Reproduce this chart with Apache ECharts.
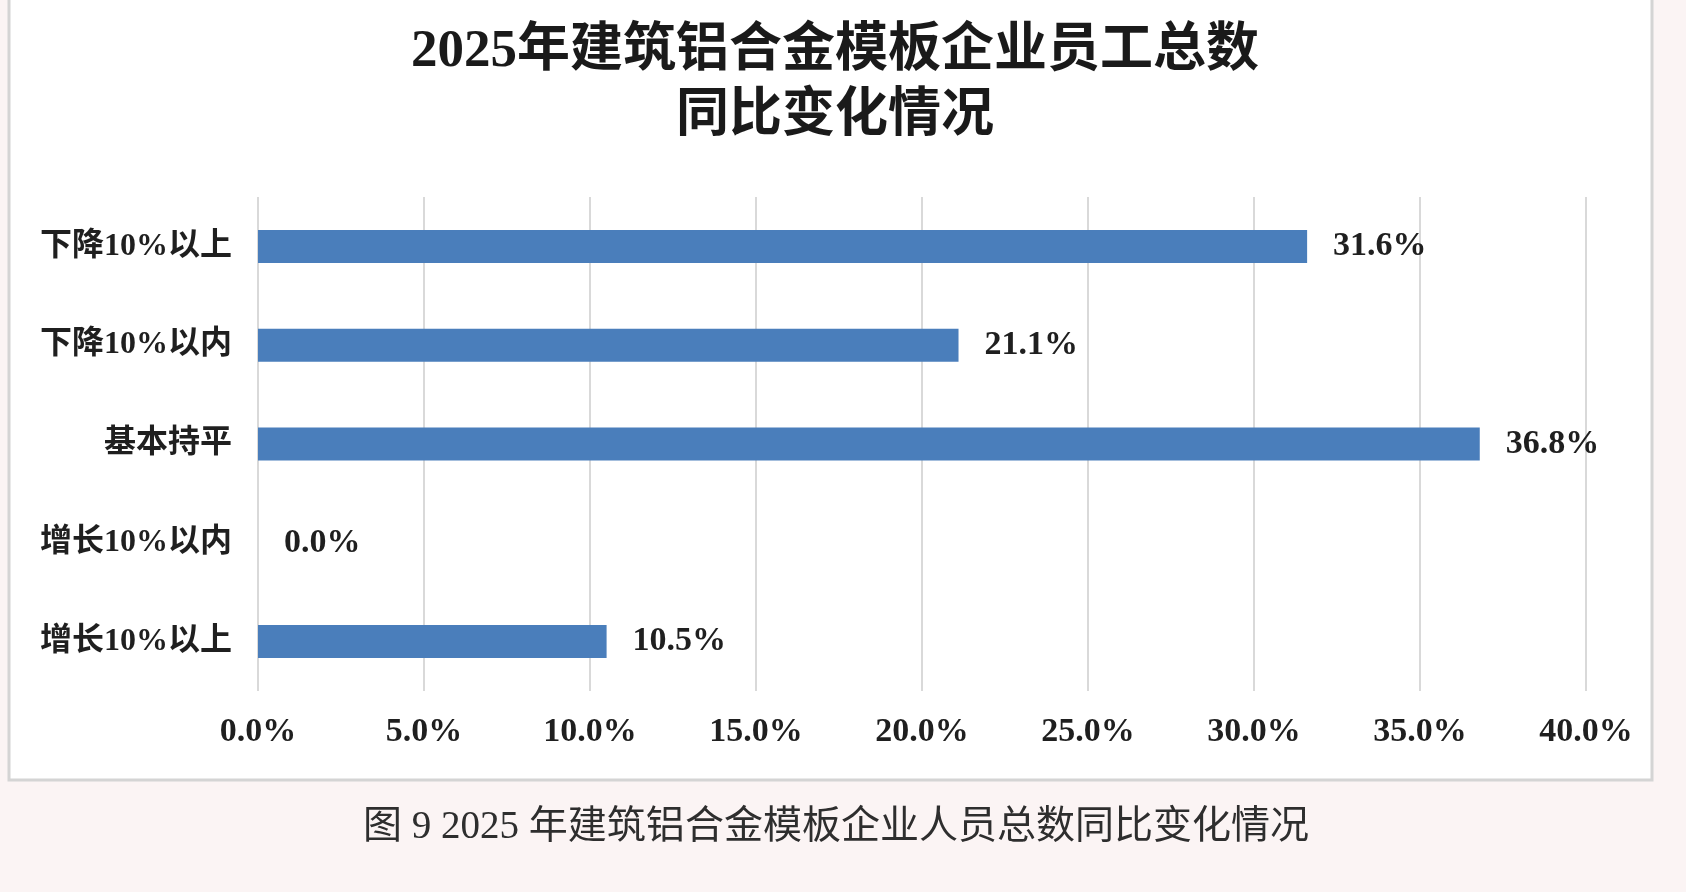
<!DOCTYPE html>
<html>
<head>
<meta charset="utf-8">
<script src="https://cdn.jsdelivr.net/npm/echarts@6/dist/echarts.min.js"></script>
<style>
  html, body { margin: 0; padding: 0; background: #fbf4f4; }
  #chart { width: 1686px; height: 892px; }
</style>
</head>
<body>
<div id="chart"></div>
<script>
var categories = ["下降10%以上", "下降10%以内", "基本持平", "增长10%以内", "增长10%以上"];
var shares = [31.6, 21.1, 36.8, 0.0, 10.5];
var titleText = "2025年建筑铝合金模板企业员工总数\n同比变化情况";
var captionText = "图 9 2025 年建筑铝合金模板企业人员总数同比变化情况";

var serif = '"Liberation Serif", "Noto Sans CJK SC", serif';

var myChart = echarts.init(document.getElementById("chart"));
var option = {
  backgroundColor: "#fbf4f4",
  animation: false,
  graphic: [
    {
      type: "rect",
      z: -10,
      shape: { x: 9, y: -10, width: 1643, height: 790 },
      style: { fill: "#ffffff", stroke: "#d4d4d4", lineWidth: 3 }
    }
  ],
  title: [
    {
      text: titleText,
      left: 830,
      top: 15,
      textAlign: "center",
      textStyle: {
        fontFamily: serif,
        fontSize: 53,
        lineHeight: 65,
        fontWeight: "bold",
        color: "#1a1a1a"
      }
    },
    {
      text: captionText,
      left: 831,
      top: 803,
      textAlign: "center",
      textStyle: {
        fontFamily: serif,
        fontSize: 39,
        fontWeight: "normal",
        color: "#2e2e2e"
      }
    }
  ],
  grid: { left: 258, right: 100, top: 197, height: 494, containLabel: false },
  xAxis: {
    type: "value",
    min: 0,
    max: 40,
    interval: 5,
    axisLine: { show: false },
    axisTick: { show: false },
    splitLine: { show: true, lineStyle: { color: "#d9d9d9", width: 2 } },
    axisLabel: {
      margin: 24,
      fontFamily: serif,
      fontSize: 34,
      fontWeight: "bold",
      color: "#1f1f1f",
      formatter: function (v) { return v.toFixed(1) + "%"; }
    }
  },
  yAxis: {
    type: "category",
    data: categories,
    inverse: true,
    axisLine: { show: false },
    axisTick: { show: false },
    axisLabel: {
      margin: 26,
      fontFamily: serif,
      fontSize: 32,
      fontWeight: "bold",
      color: "#1f1f1f"
    }
  },
  series: [
    {
      type: "bar",
      data: shares,
      barWidth: 33,
      itemStyle: { color: "#4a7ebb" },
      label: {
        show: true,
        position: "right",
        distance: 26,
        fontFamily: serif,
        fontSize: 34,
        fontWeight: "bold",
        color: "#1f1f1f",
        formatter: function (p) { return p.value.toFixed(1) + "%"; }
      }
    }
  ]
};
option && myChart.setOption(option);
</script>
</body>
</html>
